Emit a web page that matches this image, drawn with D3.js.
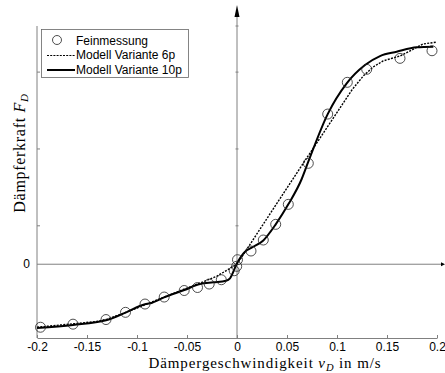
<!DOCTYPE html>
<html>
<head>
<meta charset="utf-8">
<script src="https://cdn.jsdelivr.net/npm/d3@7"></script>
<style>
  body { margin: 0; background: #fff; }
  svg { display: block; }
</style>
</head>
<body>
<div id="chart"></div>
<script>
// measured points (Feinmessung)
const measV = [-0.1965, -0.164, -0.131, -0.1115, -0.092, -0.0728, -0.0528, -0.0395, -0.0278, -0.0157,
               -0.0028, -0.0003, 0.0005, 0.014, 0.0263, 0.0387, 0.0513, 0.0713, 0.0907, 0.1103,
               0.1297, 0.163, 0.195];
const measF = [-0.82, -0.78, -0.72, -0.626, -0.518, -0.427, -0.342, -0.303, -0.258, -0.202,
               -0.085, -0.027, 0.059, 0.172, 0.315, 0.519, 0.779, 1.313, 1.954, 2.367,
               2.536, 2.679, 2.778];

// Modell Variante 6p (dashed, nearly piecewise linear)
const v6 = [-0.2, -0.16, -0.14, -0.13, -0.115, -0.1, -0.085, -0.07, -0.05, -0.034, -0.02, 0,
            0.063, 0.115, 0.1263, 0.136, 0.146, 0.155, 0.163, 0.176, 0.186, 0.2];
const f6 = [-0.82, -0.77, -0.745, -0.715, -0.645, -0.57, -0.49, -0.414, -0.31, -0.23, -0.154, 0,
            1.25, 2.27, 2.45, 2.565, 2.645, 2.68, 2.71, 2.796, 2.866, 2.89];

// Modell Variante 10p (solid)
const v10 = [-0.2, -0.164, -0.131, -0.112, -0.092, -0.087, -0.073, -0.0527, -0.037, -0.0237, -0.011,
             -0.007, 0, 0.008, 0.0147, 0.0263, 0.0387, 0.0513, 0.0647, 0.0713, 0.0907, 0.1097,
             0.128, 0.143, 0.1597, 0.1797, 0.1963];
const f10 = [-0.83, -0.79, -0.73, -0.634, -0.52, -0.509, -0.431, -0.336, -0.258, -0.236, -0.215,
             -0.183, 0.012, 0.163, 0.215, 0.31, 0.519, 0.779, 1.109, 1.334, 1.954, 2.354,
             2.592, 2.709, 2.765, 2.822, 2.83];

const xTicks = [-0.2, -0.15, -0.1, -0.05, 0, 0.05, 0.1, 0.15, 0.2];
const xTickLabels = ["-0.2", "-0.15", "-0.1", "-0.05", "0", "0.05", "0.1", "0.15", "0.2"];
const yMinorTicks = [0.5, 1.5, 2.5];

const width = 445, height = 373;
const axisColor = "#808080";

const svg = d3.select("#chart").append("svg")
    .attr("width", width)
    .attr("height", height);

const x = d3.scaleLinear().domain([-0.2, 0.2]).range([37, 437]);
const y = d3.scaleLinear().domain([-0.96, 3.1]).range([338, 26]);

// bottom axis
const xAxis = svg.append("g")
    .attr("transform", "translate(0," + y(-0.96) + ")")
    .call(d3.axisBottom(x)
        .tickValues(xTicks)
        .tickFormat((d, i) => xTickLabels[i])
        .tickSizeInner(-3)
        .tickSizeOuter(0)
        .tickPadding(4));
xAxis.select(".domain").attr("stroke", axisColor);
xAxis.selectAll(".tick line").attr("stroke", axisColor);
xAxis.selectAll(".tick text")
    .attr("fill", "#000")
    .style("font-family", "Liberation Sans, Arial, sans-serif")
    .style("font-size", "12px");

// left axis line with small ticks
svg.append("line")
    .attr("x1", x(-0.2)).attr("x2", x(-0.2))
    .attr("y1", y(3.1)).attr("y2", y(-0.96))
    .attr("stroke", axisColor);
svg.selectAll(".ltick")
    .data(yMinorTicks)
    .enter().append("line")
    .attr("x1", x(-0.2)).attr("x2", x(-0.2) + 3)
    .attr("y1", d => y(d)).attr("y2", d => y(d))
    .attr("stroke", axisColor);

// zero label
svg.append("text")
    .attr("x", x(-0.2) - 7)
    .attr("y", y(0))
    .attr("dy", "0.35em")
    .attr("text-anchor", "end")
    .style("font-family", "Liberation Sans, Arial, sans-serif")
    .style("font-size", "12px")
    .text("0");

// horizontal zero line with arrow
svg.append("line")
    .attr("x1", x(-0.2)).attr("x2", 441)
    .attr("y1", y(0)).attr("y2", y(0))
    .attr("stroke", axisColor);
svg.append("path")
    .attr("d", "M441," + (y(0) - 2) + "L445," + y(0) + "L441," + (y(0) + 2) + "Z")
    .attr("fill", "#000");

// central vertical axis with arrow
svg.append("line")
    .attr("x1", x(0)).attr("x2", x(0))
    .attr("y1", y(-0.96)).attr("y2", 14)
    .attr("stroke", axisColor);
svg.append("path")
    .attr("d", "M" + (x(0) - 2.5) + ",17L" + x(0) + ",5L" + (x(0) + 2.5) + ",17Z")
    .attr("fill", "#000");
svg.selectAll(".ctick")
    .data(yMinorTicks.concat([3.1]))
    .enter().append("line")
    .attr("x1", x(0) - 1.5).attr("x2", x(0) + 1.5)
    .attr("y1", d => y(d)).attr("y2", d => y(d))
    .attr("stroke", axisColor);

// model lines
const line6 = d3.line()
    .x((d, i) => x(v6[i]))
    .y((d, i) => y(f6[i]))
    .curve(d3.curveLinear);
svg.append("path")
    .datum(v6)
    .attr("d", line6)
    .attr("fill", "none")
    .attr("stroke", "#000")
    .attr("stroke-width", 1.4)
    .attr("stroke-dasharray", "2,1.3");

const line10 = d3.line()
    .x((d, i) => x(v10[i]))
    .y((d, i) => y(f10[i]))
    .curve(d3.curveMonotoneX);
svg.append("path")
    .datum(v10)
    .attr("d", line10)
    .attr("fill", "none")
    .attr("stroke", "#000")
    .attr("stroke-width", 2);

// measurement circles
svg.append("g")
    .selectAll("circle")
    .data(measV)
    .enter().append("circle")
    .attr("cx", (d, i) => x(measV[i]))
    .attr("cy", (d, i) => y(measF[i]))
    .attr("r", 5)
    .attr("fill", "none")
    .attr("stroke", "#222")
    .attr("stroke-width", 0.8);

// legend
const lg = svg.append("g");
lg.append("rect")
    .attr("x", 41.5).attr("y", 29.5)
    .attr("width", 147).attr("height", 48)
    .attr("fill", "#fff")
    .attr("stroke", "#666")
    .attr("stroke-width", 0.8);
lg.append("circle")
    .attr("cx", 57).attr("cy", 40).attr("r", 4.5)
    .attr("fill", "none").attr("stroke", "#222").attr("stroke-width", 0.8);
lg.append("line")
    .attr("x1", 47).attr("x2", 75).attr("y1", 55.5).attr("y2", 55.5)
    .attr("stroke", "#000").attr("stroke-width", 1.2).attr("stroke-dasharray", "2,1.2");
lg.append("line")
    .attr("x1", 47).attr("x2", 75).attr("y1", 70).attr("y2", 70)
    .attr("stroke", "#000").attr("stroke-width", 2);
const legendText = ["Feinmessung", "Modell Variante 6p", "Modell Variante 10p"];
lg.selectAll("text.lab")
    .data(legendText)
    .enter().append("text")
    .attr("x", 76)
    .attr("y", (d, i) => 44.5 + i * 14.5)
    .style("font-family", "Liberation Sans, Arial, sans-serif")
    .style("font-size", "12px")
    .text(d => d);

// axis titles
const xt = svg.append("text")
    .attr("x", 265)
    .attr("y", 368)
    .attr("text-anchor", "middle")
    .style("font-family", "Liberation Serif, DejaVu Serif, serif")
    .style("font-size", "15px")
    .style("letter-spacing", "0.9px");
xt.append("tspan").text("Dämpergeschwindigkeit ");
xt.append("tspan").style("font-style", "italic").text("v");
xt.append("tspan").style("font-style", "italic").style("font-size", "10.5px").attr("dy", 3).text("D");
xt.append("tspan").attr("dy", -3).text(" in m/s");

const yt = svg.append("text")
    .attr("transform", "translate(25,153) rotate(-90)")
    .attr("text-anchor", "middle")
    .style("font-family", "Liberation Serif, DejaVu Serif, serif")
    .style("font-size", "16px")
    .style("letter-spacing", "0.7px");
yt.append("tspan").text("Dämpferkraft ");
yt.append("tspan").style("font-style", "italic").text("F");
yt.append("tspan").style("font-style", "italic").style("font-size", "11px").attr("dy", 3).text("D");
</script>
</body>
</html>
